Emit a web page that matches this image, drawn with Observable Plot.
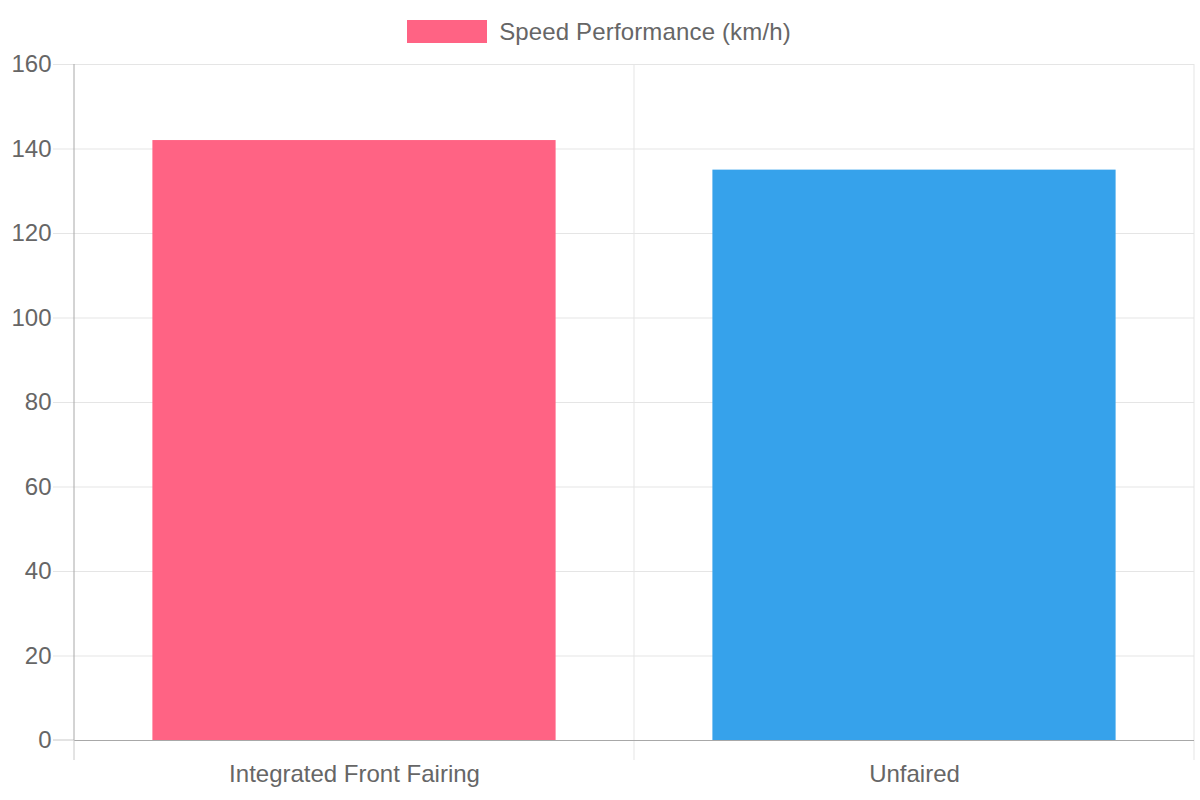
<!DOCTYPE html>
<html><head><meta charset="utf-8">
<script src="https://cdn.jsdelivr.net/npm/d3@7"></script>
<script src="https://cdn.jsdelivr.net/npm/@observablehq/plot@0.6"></script>
<style>
html,body{margin:0;padding:0;background:#fff;font-family:"Liberation Sans",Arial,Helvetica,sans-serif;}
#legend{height:40px;overflow:visible;position:relative;z-index:1;box-sizing:border-box;padding-top:20px;display:flex;justify-content:center;align-items:flex-start;color:#666;font-size:24px;transform:translateX(-1px);}
#legend .sw{width:80px;height:23px;margin-right:12px;flex:none;}
#legend .lb{line-height:23px;white-space:nowrap;letter-spacing:0.15px;}
#chart svg{display:block;}
</style></head>
<body>
<div id="legend"></div>
<div id="chart"></div>
<script>
const categories = ["Integrated Front Fairing", "Unfaired"];
const speeds = [142, 135];
const colors = ["#ff6384", "#36a2eb"];
const seriesLabel = "Speed Performance (km/h)";
const yTicks = [0, 20, 40, 60, 80, 100, 120, 140, 160];

const data = categories.map((c, i) => ({category: c, speed: speeds[i], color: colors[i]}));

const legend = document.getElementById("legend");
legend.innerHTML = `<div class="sw" style="background:${colors[0]}"></div><div class="lb">${seriesLabel}</div>`;

const W = 1200, H = 760, mL = 74, mR = 6, mT = 24, mB = 60;
const step = (W - mL - mR) / categories.length;
const inset = step * (1 - 0.72) / 2;
const gridColor = "#e5e5e5", axisColor = "#a8a8a8", tickColor = "#c8c8c8";

const plot = Plot.plot({
  width: W, height: H,
  marginLeft: mL, marginRight: mR, marginTop: mT, marginBottom: mB,
  style: {fontFamily: "'Liberation Sans', Arial, sans-serif", fontSize: "24px", color: "#666", background: "transparent"},
  x: {domain: categories, padding: 0, label: null},
  y: {domain: [0, 160], label: null},
  marks: [
    Plot.ruleY(yTicks.filter(v => v !== 0), {y: d => d, stroke: gridColor, strokeWidth: 1, insetLeft: -21}),
    Plot.barY(data, {x: "category", y: "speed", fill: "color", insetLeft: inset, insetRight: inset}),
    Plot.ruleY([0], {y: d => d, stroke: axisColor, strokeWidth: 1}),
    Plot.axisY(yTicks, {tickSize: 0, tickPadding: 23, fontSize: 24, fill: "#666", label: null}),
    Plot.axisX({tickSize: 0, tickPadding: 24, fontSize: 24, fill: "#666", label: null})
  ]
});

// category boundary gridlines, ticks & left axis, positioned from Plot's own x and y scales
const sx = plot.scale("x");
const sy = plot.scale("y");
const svg = d3.select(plot);
const y0 = sy.range[0], yTop = sy.range[1], yBot = y0 + 20;
const bounds = d3.range(categories.length + 1).map(i => sx.range[0] + i * sx.step);
bounds.slice(1).forEach(bx => {
  svg.insert("line", "g[aria-label='bar']")
    .attr("x1", bx).attr("x2", bx).attr("y1", yTop).attr("y2", yBot)
    .attr("stroke", gridColor).attr("stroke-width", 1);
});
// zero-line tick to the left of the axis
svg.append("line")
  .attr("x1", bounds[0] - 21).attr("x2", bounds[0]).attr("y1", y0).attr("y2", y0)
  .attr("stroke", tickColor).attr("stroke-width", 1);
// left-axis tick below the zero line
svg.append("line")
  .attr("x1", bounds[0]).attr("x2", bounds[0]).attr("y1", y0).attr("y2", yBot)
  .attr("stroke", tickColor).attr("stroke-width", 1);
// left axis line
svg.append("line")
  .attr("x1", bounds[0]).attr("x2", bounds[0]).attr("y1", yTop).attr("y2", y0)
  .attr("stroke", axisColor).attr("stroke-width", 1);

document.getElementById("chart").appendChild(plot);
</script>
</body></html>
